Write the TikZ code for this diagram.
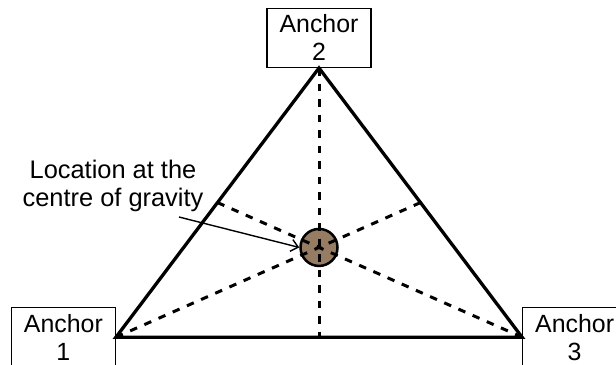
\documentclass[tikz,border=0pt]{standalone}
\usepackage{fontspec}
\setmainfont{Liberation Sans}
\usetikzlibrary{calc,arrows.meta}
\definecolor{cogbrown}{RGB}{150,124,98}
\begin{document}
\begin{tikzpicture}[x=1bp,y=-1bp,
  anchorbox/.style={draw, line width=1.3bp, minimum width=104bp, minimum height=59bp,
    inner sep=0pt, align=center, font=\fontsize{25}{28}\selectfont},
  side/.style={line width=3.3bp, line join=miter},
  median/.style={line width=3bp, dash pattern=on 7.5bp off 8bp},
  cogmark/.style={circle, draw, line width=2.5bp, fill=cogbrown, minimum size=37bp, inner sep=0pt},
  labeltext/.style={align=center, font=\fontsize{25.5}{28}\selectfont, inner sep=0pt},
  pointer/.style={line width=1.4bp, -{Straight Barb[length=7bp, width=12bp, line width=1.4bp]}}
]
\clip (0,0) rectangle (616,364);
% anchors
\node[anchorbox, anchor=south] (a2) at (319,68) {Anchor\\2};
\node[anchorbox, anchor=north east] (a1) at (116,307) {Anchor\\1};
\node[anchorbox, anchor=north west] (a3) at (522,307) {Anchor\\3};
% midpoints
\coordinate (m13) at ($(a1.east)!0.5!(a3.west)$);
\coordinate (m12) at ($(a1.east)!0.5!(a2.south)$);
\coordinate (m23) at ($(a2.south)!0.5!(a3.west)$);
% centre of gravity
\node[cogmark] (cog) at ($(a2.south)!2/3!(m13)$) {};
% medians
\draw[median] (a2.south) -- (m13);
\draw[median] (a1.east) -- (m23);
\draw[median] (a3.west) -- (m12);
% triangle
\draw[side] (a1.east) -- (a2.south) -- (a3.west) -- cycle;
% label
\node[labeltext, anchor=base] (lbl) at (113,206) {Location at the\\centre of gravity};
\coordinate (arrstart) at (179,217);
\draw[pointer] (arrstart) -- (cog.west);
\end{tikzpicture}
\end{document}
